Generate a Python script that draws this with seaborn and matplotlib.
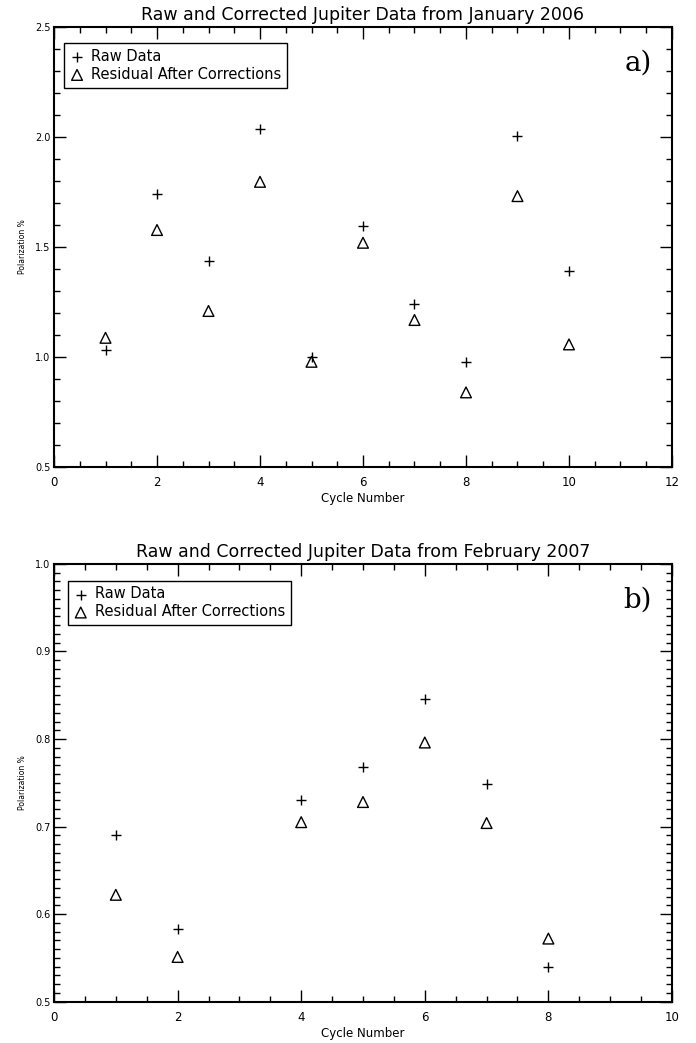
import numpy as np
import pandas as pd
import matplotlib
matplotlib.use("Agg")
import matplotlib.pyplot as plt
import seaborn as sns
from matplotlib.ticker import MultipleLocator, FormatStrFormatter

# ---- data ----
cycle_2006 = [1, 2, 3, 4, 5, 6, 7, 8, 9, 10]
raw_2006 = [1.030, 1.738, 1.435, 2.034, 1.000, 1.594, 1.238, 0.977, 2.005, 1.389]
resid_2006 = [1.086, 1.576, 1.208, 1.795, 0.977, 1.518, 1.167, 0.838, 1.730, 1.056]

cycle_2007 = [1, 2, 4, 5, 6, 7, 8]
raw_2007 = [0.690, 0.5825, 0.730, 0.768, 0.846, 0.749, 0.540]
resid_2007 = [0.622, 0.551, 0.705, 0.728, 0.796, 0.704, 0.572]

titles = ["Raw and Corrected Jupiter Data from January 2006",
          "Raw and Corrected Jupiter Data from February 2007"]
panel_tags = ["a)", "b)"]

sns.set_style("ticks")
plt.rcParams['font.family'] = ['DejaVu Sans']
plt.rcParams['text.color'] = 'black'
plt.rcParams['axes.labelcolor'] = 'black'
plt.rcParams['xtick.color'] = 'black'
plt.rcParams['ytick.color'] = 'black'

fig = plt.figure(figsize=(6.96, 10.43), dpi=100)
ax_a = fig.add_axes([0.0776, 0.5525, 0.8879, 0.4219])
ax_b = fig.add_axes([0.0776, 0.0397, 0.8879, 0.4196])

panels = [
    (ax_a, cycle_2006, raw_2006, resid_2006, (0, 12), (0.5, 2.5), 0.5, 0.1, (0.016, 0.963)),
    (ax_b, cycle_2007, raw_2007, resid_2007, (0, 10), (0.5, 1.0), 0.1, 0.01, (0.022, 0.962)),
]

for i, (ax, cyc, raw, res, xlim, ylim, ymaj, ymin, leg_xy) in enumerate(panels):
    df = pd.DataFrame({'cycle': cyc, 'raw': raw, 'resid': res})

    sns.scatterplot(data=df, x='cycle', y='raw', marker='+', color='black',
                    s=55, linewidth=1.0, ax=ax, label='Raw Data')
    sns.scatterplot(data=df, x='cycle', y='resid', marker='^', fc='none', ec='black',
                    s=60, linewidth=1.0, ax=ax, label='Residual After Corrections')

    ax.set_xlim(*xlim)
    ax.set_ylim(*ylim)
    ax.xaxis.set_major_locator(MultipleLocator(2))
    ax.xaxis.set_minor_locator(MultipleLocator(0.5))
    ax.yaxis.set_major_locator(MultipleLocator(ymaj))
    ax.yaxis.set_minor_locator(MultipleLocator(ymin))
    ax.xaxis.set_major_formatter(FormatStrFormatter('%d'))
    ax.yaxis.set_major_formatter(FormatStrFormatter('%.1f'))

    for sp in ax.spines.values():
        sp.set_visible(True)
        sp.set_linewidth(1.5)
        sp.set_color('black')

    ax.tick_params(which='both', direction='in', top=True, right=True,
                   color='black', width=1.0)
    ax.tick_params(which='major', length=8.5)
    ax.tick_params(which='minor', length=4.5)
    ax.tick_params(axis='x', which='major', labelsize=8.5, pad=7)
    ax.tick_params(axis='y', which='major', labelsize=7, pad=2.5)

    ax.set_xlabel("Cycle Number", fontsize=8.5, labelpad=2)
    ax.set_ylabel("Polarization %", fontsize=5.5, labelpad=6)
    ax.set_title(titles[i], fontsize=12.5, pad=5)

    leg = ax.legend(loc='upper left', bbox_to_anchor=leg_xy, borderaxespad=0,
                    fontsize=10.5, frameon=True, fancybox=False, edgecolor='black',
                    handlelength=1.0, handletextpad=0.45, borderpad=0.4,
                    labelspacing=0.2, markerscale=1.0)
    leg.get_frame().set_linewidth(1.0)
    leg.get_frame().set_alpha(1)

    ax.text(0.968, 0.918, panel_tags[i], transform=ax.transAxes, ha='right',
            va='center', fontsize=20, family='DejaVu Serif')

fig.savefig("out.png", dpi=100, facecolor='white')
